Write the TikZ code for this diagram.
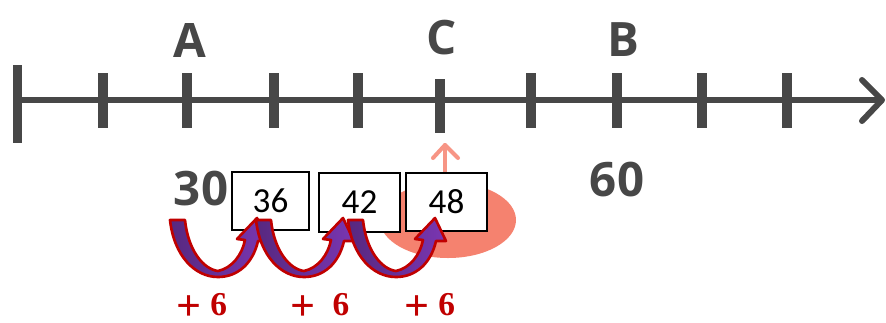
\documentclass[tikz,border=0pt]{standalone}
\usepackage{fontspec}
\usepackage{tikz}
\newfontfamily\axisfont{Open Sans}
\newfontfamily\boxfont{Carlito}
\newfontfamily\plusfont{Liberation Serif}
\definecolor{axisgray}{HTML}{474747}
\definecolor{salmon}{HTML}{F5826F}
\definecolor{jumpdark}{HTML}{57287F}
\definecolor{jumplight}{HTML}{7A36B2}
\definecolor{jumpred}{HTML}{C00000}
\newcommand\bigplus{\smash{\raisebox{-3pt}{\fontsize{25}{25}\selectfont+}}}

\begin{document}
\begin{tikzpicture}[x=0.02cm, y=-0.02cm,
  tickmark/.style={draw=axisgray, line width=0.2cm},
  letter/.style={text=axisgray, font=\axisfont\bfseries\fontsize{27}{30}\selectfont, inner sep=0pt},
  numbox/.style={draw=black, line width=1pt, fill=white, minimum width=1.62cm, minimum height=1.17cm, inner sep=0pt, font=\boxfont\fontsize{20}{22}\selectfont, outer sep=0pt},
  jump/.style={draw=jumpred, line width=1.5pt, line join=round, left color=jumpdark, right color=jumplight},
  plus/.style={text=jumpred, font=\plusfont\bfseries\fontsize{19}{20}\selectfont, inner sep=0pt}]
\useasboundingbox (0,0) rectangle (886,322);

% number line
\coordinate (start) at (17,100);
\coordinate (end) at (882,100);
\draw[axisgray, line width=0.12cm] (start) -- (end);
\draw[axisgray, line width=0.12cm, line cap=round, line join=round] (862,80) -- (end) -- (862,121);
\draw[tickmark] (17.5,65) -- (17.5,143);
\foreach \x in {103,187,274,358,531,617,702,787}
  \draw[tickmark] (\x,73) -- (\x,128);
\draw[tickmark] (440,79) -- (440,133);
\coordinate (ctick) at (445,145);

% labels
\node[letter] (A) at (190,40) {A};
\node[letter] (C) at (442,38) {C};
\node[letter] (B) at (623,40) {B};
\node[letter] (n30) at (201,189) {30};
\node[letter] (n60) at (617,180) {60};

% marked spot
\fill[salmon] (448,220) ellipse [x radius=68, y radius=38];
\coordinate (cfoot) at (445,173);
\draw[salmon!85!white, line width=0.08cm, line cap=round, line join=round] (cfoot) -- (ctick);
\draw[salmon!85!white, line width=0.08cm, line cap=round, line join=round] (433,158) -- (ctick) -- (458,158);

% boxes
\node[numbox, minimum width=1.54cm] (n36) at (270.5,201) {36};
\node[numbox] (n42) at (359.5,202.5) {42};
\node[numbox] (n48) at (446.5,202) {48};

% jumps of six
\foreach \x in {170,256,348}
  \draw[jump] (\x,220) -- ({\x+15},220)
    .. controls ({\x+18},250) and ({\x+33},269) .. ({\x+48},271)
    .. controls ({\x+62},268) and ({\x+72},255) .. ({\x+75},240)
    -- ({\x+67},239) -- ({\x+87},218) -- ({\x+98},241) -- ({\x+88},241)
    .. controls ({\x+83},263) and ({\x+68},277) .. ({\x+48},277)
    .. controls ({\x+25},277) and ({\x+4},256) .. (\x,220) -- cycle;

\node[plus, anchor=base] (p1) at (202,315) {\bigplus\ 6};
\node[plus, anchor=base] (p2) at (320,315) {\bigplus\ \ 6};
\node[plus, anchor=base] (p3) at (430,315) {\bigplus\ 6};
\end{tikzpicture}
\end{document}
